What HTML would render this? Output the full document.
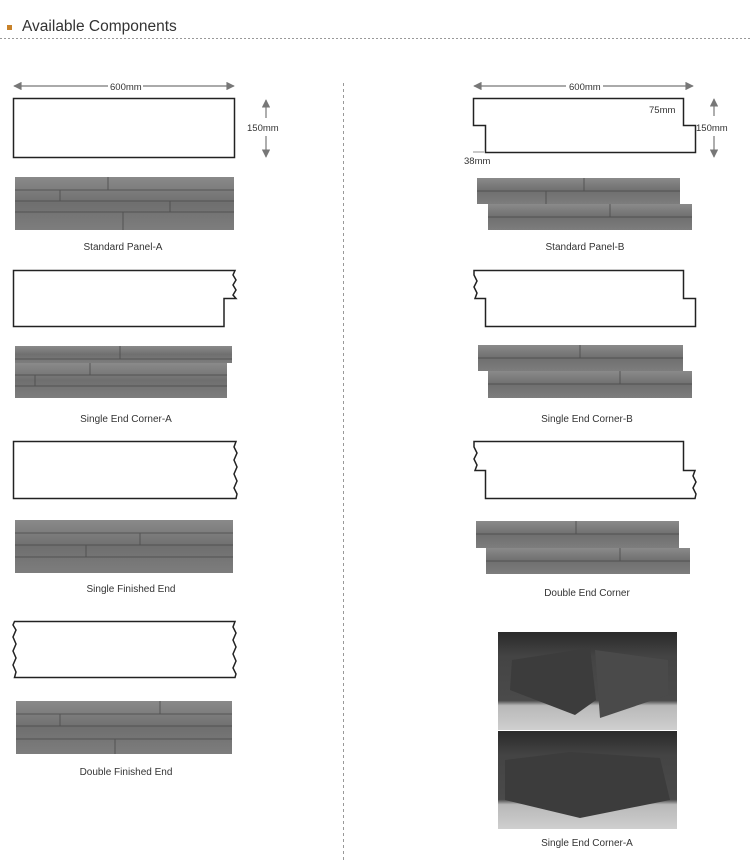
<!DOCTYPE html>
<html><head><meta charset="utf-8"><style>
html,body{margin:0;padding:0;background:#fff;width:750px;height:862px;overflow:hidden}
svg{display:block}
text{font-family:"Liberation Sans","DejaVu Sans",sans-serif}
</style></head><body>
<svg width="750" height="862" viewBox="0 0 750 862" xmlns="http://www.w3.org/2000/svg">
<defs>
<marker id="ah" viewBox="0 0 10 10" refX="9" refY="5" markerWidth="9" markerHeight="7" orient="auto-start-reverse"><path d="M0,0 L10,5 L0,10 z" fill="#777"/></marker>
<linearGradient id="st" x1="0" y1="0" x2="0" y2="1"><stop offset="0" stop-color="#8a8a8a"/><stop offset="0.5" stop-color="#6f6f6f"/><stop offset="1" stop-color="#7d7d7d"/></linearGradient>
<linearGradient id="ph" x1="0" y1="0" x2="0" y2="1"><stop offset="0" stop-color="#2a2a2a"/><stop offset="0.25" stop-color="#444"/><stop offset="0.7" stop-color="#4a4a4a"/><stop offset="0.75" stop-color="#b8b8b8"/><stop offset="1" stop-color="#cfcfcf"/></linearGradient>
</defs>
<rect x="7" y="25" width="5" height="5" fill="#c8822a"/>
<text x="22" y="31" font-size="15.5" fill="#333">Available Components</text>
<line x1="0" y1="38.5" x2="750" y2="38.5" stroke="#999" stroke-dasharray="2,2"/>
<line x1="343.5" y1="83" x2="343.5" y2="862" stroke="#999" stroke-dasharray="3,3"/>

<g fill="none" stroke="#222" stroke-width="1.5">
<rect x="13.5" y="98.5" width="221" height="59"/>
<path d="M13.5,270.5 L235,270.5 L233,275 L236,280 L233,285 L236,290 L233,295 L236,298.5 L224,298.5 L224,326.5 L13.5,326.5 Z"/>
<path d="M13.5,441.5 L236,441.5 L234,447 L237,453 L234,460 L237,467 L234,474 L237,481 L234,488 L237,494 L236,498.5 L13.5,498.5 Z"/>
<path d="M14.5,621.5 L235,621.5 L233,627 L236,633 L233,640 L236,647 L233,654 L236,661 L233,668 L236,674 L235,677.5 L14.5,677.5 L16,672 L13,665 L16,658 L13,651 L16,644 L13,637 L16,630 L13,625 Z"/>
<path d="M473.5,98.5 L683.5,98.5 L683.5,125.5 L695.5,125.5 L695.5,152.5 L485.5,152.5 L485.5,125.5 L473.5,125.5 Z"/>
<path d="M474,270.5 L683.5,270.5 L683.5,298.5 L695.5,298.5 L695.5,326.5 L485.5,326.5 L485.5,298.5 L475,298.5 L477,293 L474,287 L477,281 L474,275 Z"/>
<path d="M474,441.5 L683.5,441.5 L683.5,470.5 L695,470.5 L693,476 L696,482 L693,488 L696,494 L695,498.5 L485.5,498.5 L485.5,470.5 L475,470.5 L477,465 L474,459 L477,453 L474,447 Z"/>
</g>

<g stroke="#777" stroke-width="1.2" fill="none">
<line x1="14" y1="86" x2="108" y2="86" marker-start="url(#ah)"/>
<line x1="143" y1="86" x2="234" y2="86" marker-end="url(#ah)"/>
<line x1="266" y1="100" x2="266" y2="118" marker-start="url(#ah)"/>
<line x1="266" y1="136" x2="266" y2="157" marker-end="url(#ah)"/>
<line x1="474" y1="86" x2="566" y2="86" marker-start="url(#ah)"/>
<line x1="603" y1="86" x2="693" y2="86" marker-end="url(#ah)"/>
<line x1="714" y1="99" x2="714" y2="116" marker-start="url(#ah)"/>
<line x1="714" y1="136" x2="714" y2="157" marker-end="url(#ah)"/>
<line x1="473" y1="152" x2="484" y2="152" stroke-width="0.8"/>
</g>
<g font-size="9.5" fill="#333">
<text x="110" y="90">600mm</text>
<text x="247" y="131">150mm</text>
<text x="569" y="90">600mm</text>
<text x="649" y="113">75mm</text>
<text x="696" y="131">150mm</text>
<text x="464" y="164">38mm</text>
</g>

<g>
<rect x="15" y="177" width="219" height="53" fill="url(#st)"/>
<rect x="15" y="346" width="217" height="17" fill="url(#st)"/><rect x="15" y="363" width="212" height="35" fill="url(#st)"/>
<rect x="15" y="520" width="218" height="53" fill="url(#st)"/>
<rect x="16" y="701" width="216" height="53" fill="url(#st)"/>
<rect x="477" y="178" width="203" height="26" fill="url(#st)"/><rect x="488" y="204" width="204" height="26" fill="url(#st)"/>
<rect x="478" y="345" width="205" height="26" fill="url(#st)"/><rect x="488" y="371" width="204" height="27" fill="url(#st)"/>
<rect x="476" y="521" width="203" height="27" fill="url(#st)"/><rect x="486" y="548" width="204" height="26" fill="url(#st)"/>
</g>
<g stroke="#4a4a4a" stroke-width="1" opacity="0.8">
<line x1="15" y1="190" x2="234" y2="190"/><line x1="15" y1="201" x2="234" y2="201"/><line x1="15" y1="212" x2="234" y2="212"/>
<line x1="15" y1="359" x2="232" y2="359"/><line x1="15" y1="375" x2="227" y2="375"/><line x1="15" y1="386" x2="227" y2="386"/>
<line x1="15" y1="533" x2="233" y2="533"/><line x1="15" y1="545" x2="233" y2="545"/><line x1="15" y1="557" x2="233" y2="557"/>
<line x1="16" y1="714" x2="232" y2="714"/><line x1="16" y1="726" x2="232" y2="726"/><line x1="16" y1="739" x2="232" y2="739"/>
<line x1="477" y1="191" x2="680" y2="191"/><line x1="488" y1="217" x2="692" y2="217"/>
<line x1="478" y1="358" x2="683" y2="358"/><line x1="488" y1="384" x2="692" y2="384"/>
<line x1="476" y1="534" x2="679" y2="534"/><line x1="486" y1="561" x2="690" y2="561"/>
<line x1="108" y1="177" x2="108" y2="190"/><line x1="123" y1="212" x2="123" y2="230"/><line x1="60" y1="190" x2="60" y2="201"/><line x1="170" y1="201" x2="170" y2="212"/>
<line x1="120" y1="346" x2="120" y2="359"/><line x1="90" y1="363" x2="90" y2="375"/><line x1="35" y1="375" x2="35" y2="386"/>
<line x1="86" y1="545" x2="86" y2="557"/><line x1="140" y1="533" x2="140" y2="545"/>
<line x1="160" y1="701" x2="160" y2="714"/><line x1="60" y1="714" x2="60" y2="726"/><line x1="115" y1="739" x2="115" y2="754"/>
<line x1="584" y1="178" x2="584" y2="191"/><line x1="546" y1="191" x2="546" y2="204"/><line x1="610" y1="204" x2="610" y2="217"/>
<line x1="580" y1="345" x2="580" y2="358"/><line x1="620" y1="371" x2="620" y2="384"/>
<line x1="576" y1="521" x2="576" y2="534"/><line x1="620" y1="548" x2="620" y2="561"/>
</g>

<rect x="498" y="632" width="179" height="98" fill="url(#ph)"/>
<rect x="498" y="731" width="179" height="98" fill="url(#ph)"/>
<g fill="#3c3c3c">
<path d="M512,660 L590,648 L596,700 L575,715 L510,690 Z"/>
<path d="M595,650 L668,660 L668,695 L600,718 Z" fill="#4a4a4a"/>
<path d="M505,760 L570,752 L660,758 L670,800 L580,818 L505,800 Z"/>
</g>

<g font-size="10" fill="#333" text-anchor="middle">
<text x="123" y="250">Standard Panel-A</text>
<text x="585" y="250">Standard Panel-B</text>
<text x="126" y="422">Single End Corner-A</text>
<text x="587" y="422">Single End Corner-B</text>
<text x="131" y="592">Single Finished End</text>
<text x="587" y="596">Double End Corner</text>
<text x="126" y="775">Double Finished End</text>
<text x="587" y="846">Single End Corner-A</text>
</g>
</svg>
</body></html>
